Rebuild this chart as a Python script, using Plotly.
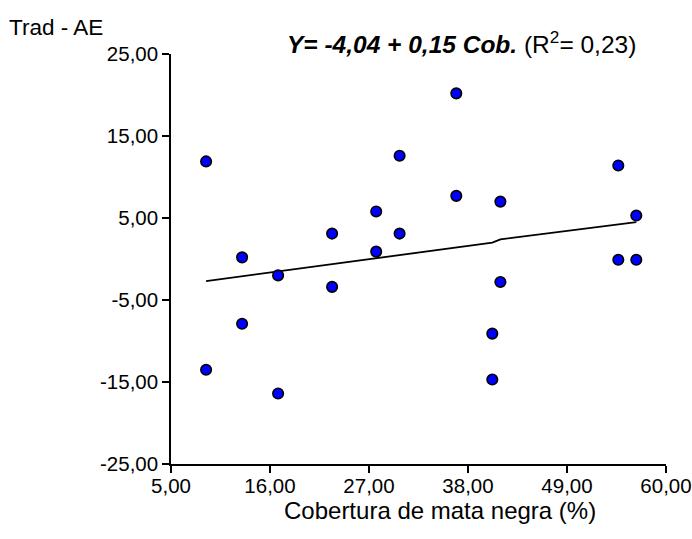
import plotly.graph_objects as go

# Data
cobertura = [8.9, 8.9, 12.9, 12.9, 16.9, 16.9, 22.9, 22.9, 27.8, 27.8, 30.4,
             30.4, 36.7, 36.7, 40.7, 40.7, 41.6, 41.6, 54.7, 54.7, 56.7, 56.7]
trad_ae = [11.9, -13.5, 0.2, -7.9, -2.0, -16.4, 3.1, -3.4, 5.8, 0.9, 12.6,
           3.1, 20.2, 7.7, -9.1, -14.7, 7.0, -2.8, 11.4, -0.1, 5.3, -0.1]

# Regression line as drawn
line_x = [8.9, 40.7, 41.6, 56.7]
line_y = [-2.7, 2.0, 2.4, 4.5]

x_ticks = [5, 16, 27, 38, 49, 60]
x_ticktext = ["5,00", "16,00", "27,00", "38,00", "49,00", "60,00"]
y_ticks = [-25, -15, -5, 5, 15, 25]
y_ticktext = ["-25,00", "-15,00", "-5,00", "5,00", "15,00", "25,00"]

W, H = 692, 539
L, R, T, B = 171, 26, 54, 75
PW, PH = W - L - R, H - T - B


def px_to_paper(px, py):
    """page pixel -> paper coords"""
    return (px - L) / PW, 1 - (py - T) / PH


fig = go.Figure()
fig.add_trace(go.Scatter(x=line_x, y=line_y, mode="lines",
                         line=dict(color="black", width=1.8),
                         hoverinfo="skip", showlegend=False))
fig.add_trace(go.Scatter(x=cobertura, y=trad_ae, mode="markers",
                         marker=dict(size=10.5, color="#0000FF",
                                     line=dict(color="black", width=1.6)),
                         showlegend=False, cliponaxis=False))

FAM = "Liberation Sans, Arial, sans-serif"
tick_font = dict(family=FAM, size=20.5, color="black")

axis_common = dict(showline=True, linecolor="black", linewidth=1.5,
                   ticks="outside", ticklen=7, tickwidth=1.5, tickcolor="black",
                   showgrid=False, zeroline=False, fixedrange=True,
                   tickfont=tick_font)

tx, ty = px_to_paper(56, 28)
hx, hy = px_to_paper(461, 43)
ax_, ay_ = px_to_paper(440, 510)

fig.update_layout(
    width=W, height=H,
    margin=dict(l=L, r=R, t=T, b=B, autoexpand=False),
    paper_bgcolor="white", plot_bgcolor="white",
    font=dict(family=FAM, size=22, color="black"),
    xaxis=dict(range=[5, 60], tickvals=x_ticks, ticktext=x_ticktext,
               ticklabelstandoff=-4, **axis_common),
    yaxis=dict(range=[-25, 25], tickvals=y_ticks, ticktext=y_ticktext,
               **axis_common),
    annotations=[
        dict(text="Trad - AE", xref="paper", yref="paper", x=tx, y=ty,
             xanchor="center", yanchor="middle", showarrow=False,
             font=dict(size=22.5)),
        dict(text="<b><i>Y= -4,04 + 0,15 Cob.</i></b> (R<sup>2</sup>= 0,23)",
             xref="paper", yref="paper", x=hx, y=hy,
             xanchor="center", yanchor="middle", showarrow=False,
             font=dict(size=24.5)),
        dict(text="Cobertura de mata negra (%)", xref="paper", yref="paper",
             x=ax_, y=ay_, xanchor="center", yanchor="middle",
             showarrow=False, font=dict(size=24)),
    ],
)

fig.write_html(
    "out.html",
    config={"displayModeBar": False},
    post_script="document.body.style.margin='0';"
                "document.body.style.overflow='hidden';",
)
